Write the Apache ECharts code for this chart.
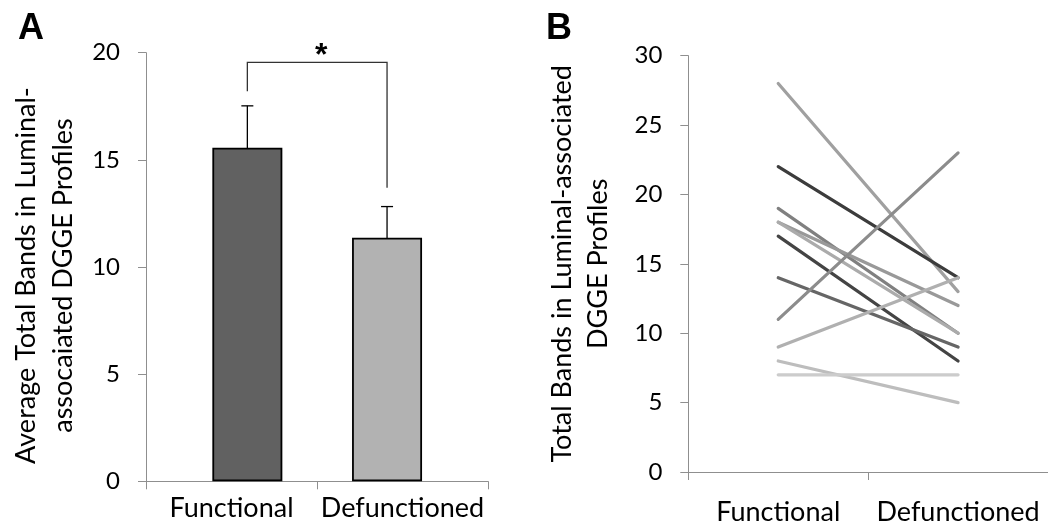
<!DOCTYPE html>
<html>
<head>
<meta charset="utf-8">
<script src="https://cdn.jsdelivr.net/npm/echarts@6/dist/echarts.min.js"></script>
<style>
  html, body { margin: 0; padding: 0; background: #fff; }
  #chart { width: 1048px; height: 526px; }
</style>
</head>
<body>
<div id="chart"></div>
<script>
// panel A: mean bands with error bars
const groups = ['Functional', 'Defunctioned']
const meanBands = [15.57, 11.37]
const errBands = [1.95, 1.45]
const barColors = ['#616161', '#b2b2b2']
// significance bracket: top level, and where each leg ends
const bracketTop = 19.55
const bracketEnds = [18.2, 13.7]
const sigMark = '*'

// panel B: paired totals per profile
const functionalBands = [28, 22, 19, 18, 18, 17, 14, 11, 9, 8, 7]
const defunctionedBands = [13, 14, 10, 12, 10, 8, 9, 23, 14, 5, 7]
const pairColors = ['#a0a0a0', '#3c3c3c', '#808080', '#999999', '#ababab', '#444444', '#666666', '#8c8c8c', '#b0b0b0', '#bdbdbd', '#cccccc']

const font = 'Lato'
const axisGray = '#8f8f8f'

const chart = echarts.init(document.getElementById('chart'))

const tickLabel = { color: '#000', fontSize: 24, fontFamily: font }
const catLabel = { color: '#000', fontSize: 27, fontFamily: font, interval: 0 }

const lineSeries = functionalBands.map((f, i) => ({
  type: 'line',
  xAxisIndex: 2,
  yAxisIndex: 2,
  data: [f, defunctionedBands[i]],
  symbol: 'none',
  lineStyle: { width: 3.2, color: pairColors[i], cap: 'round' },
  silent: true
}))

const option = {
  animation: false,
  backgroundColor: '#fff',
  title: [
    { text: 'A', left: 13, top: 6, textStyle: { fontFamily: 'Liberation Sans', fontWeight: 'bold', fontSize: 36, color: '#000' } },
    { text: 'B', left: 541, top: 6, textStyle: { fontFamily: 'Liberation Sans', fontWeight: 'bold', fontSize: 36, color: '#000' } }
  ],
  grid: [
    { left: 146, top: 52.7, width: 342, height: 428.6 },
    { left: 177.5, top: 52.7, width: 279.4, height: 428.6 },
    { left: 688.3, top: 55.7, width: 364, height: 420 }
  ],
  xAxis: [
    {
      gridIndex: 0,
      type: 'category',
      data: groups,
      axisLine: { lineStyle: { color: axisGray, width: 1 } },
      axisTick: { show: true, length: 8, lineStyle: { color: axisGray } },
      axisLabel: { ...catLabel, margin: 13 }
    },
    {
      gridIndex: 1,
      type: 'category',
      data: groups,
      show: false
    },
    {
      gridIndex: 2,
      type: 'category',
      data: groups,
      axisLine: { lineStyle: { color: axisGray, width: 1 } },
      axisTick: { show: true, length: 8, lineStyle: { color: axisGray } },
      axisLabel: { ...catLabel, margin: 27 }
    }
  ],
  yAxis: [
    {
      gridIndex: 0,
      type: 'value',
      min: 0,
      max: 20,
      interval: 5,
      splitLine: { show: false },
      axisLine: { show: true, lineStyle: { color: axisGray, width: 1 } },
      axisTick: { show: true, length: 8, lineStyle: { color: axisGray } },
      axisLabel: { ...tickLabel, margin: 26 },
      name: 'Average Total Bands in Luminal-\nassocaiated DGGE Profiles',
      nameLocation: 'middle',
      nameRotate: 90,
      nameGap: 64,
      nameTextStyle: { color: '#000', fontSize: 27, fontFamily: font, lineHeight: 37, padding: [0, 17, 0, 0] }
    },
    {
      gridIndex: 1,
      type: 'value',
      min: 0,
      max: 20,
      show: false
    },
    {
      gridIndex: 2,
      type: 'value',
      min: 0,
      max: 30,
      interval: 5,
      splitLine: { show: false },
      axisLine: { show: true, lineStyle: { color: axisGray, width: 1 } },
      axisTick: { show: true, length: 8, lineStyle: { color: axisGray } },
      axisLabel: { ...tickLabel, margin: 26 },
      name: 'Total Bands in Luminal-associated\nDGGE Profiles',
      nameLocation: 'middle',
      nameRotate: 90,
      nameGap: 72,
      nameTextStyle: { color: '#000', fontSize: 27, fontFamily: font, lineHeight: 36 }
    }
  ],
  series: [
    {
      type: 'bar',
      xAxisIndex: 1,
      yAxisIndex: 1,
      barWidth: 70,
      data: meanBands.map((v, i) => ({
        value: v,
        itemStyle: { color: barColors[i], borderColor: '#000', borderWidth: 1.8 }
      })),
      silent: true
    },
    {
      // error bars
      type: 'custom',
      xAxisIndex: 1,
      yAxisIndex: 1,
      silent: true,
      data: meanBands.map((v, i) => [i, v - errBands[i], v + errBands[i]]),
      renderItem: (params, api) => {
        const lo = api.coord([api.value(0), api.value(1)])
        const hi = api.coord([api.value(0), api.value(2)])
        const half = 6
        const style = { stroke: '#000', lineWidth: 1.3 }
        return {
          type: 'group',
          children: [
            { type: 'line', shape: { x1: hi[0], y1: hi[1], x2: lo[0], y2: lo[1] }, style },
            { type: 'line', shape: { x1: hi[0] - half, y1: hi[1], x2: hi[0] + half, y2: hi[1] }, style },
            { type: 'line', shape: { x1: lo[0] - half, y1: lo[1], x2: lo[0] + half, y2: lo[1] }, style }
          ]
        }
      }
    },
    {
      // significance bracket
      type: 'custom',
      xAxisIndex: 1,
      yAxisIndex: 1,
      silent: true,
      clip: false,
      data: [[0, 1, bracketTop, bracketEnds[0], bracketEnds[1]]],
      renderItem: (params, api) => {
        const a = api.coord([api.value(0), api.value(3)])
        const aTop = api.coord([api.value(0), api.value(2)])
        const bTop = api.coord([api.value(1), api.value(2)])
        const b = api.coord([api.value(1), api.value(4)])
        return {
          type: 'group',
          children: [
            {
              type: 'polyline',
              shape: { points: [a, aTop, bTop, b] },
              style: { stroke: '#333', lineWidth: 1.3, fill: null }
            },
            {
              type: 'text',
              x: (aTop[0] + bTop[0]) / 2 + 4,
              y: aTop[1] - 6,
              style: {
                text: sigMark,
                fill: '#000',
                font: 'bold 32px Liberation Sans',
                align: 'center',
                verticalAlign: 'middle'
              }
            }
          ]
        }
      }
    },
    ...lineSeries
  ]
}

chart.setOption(option)
</script>
</body>
</html>
